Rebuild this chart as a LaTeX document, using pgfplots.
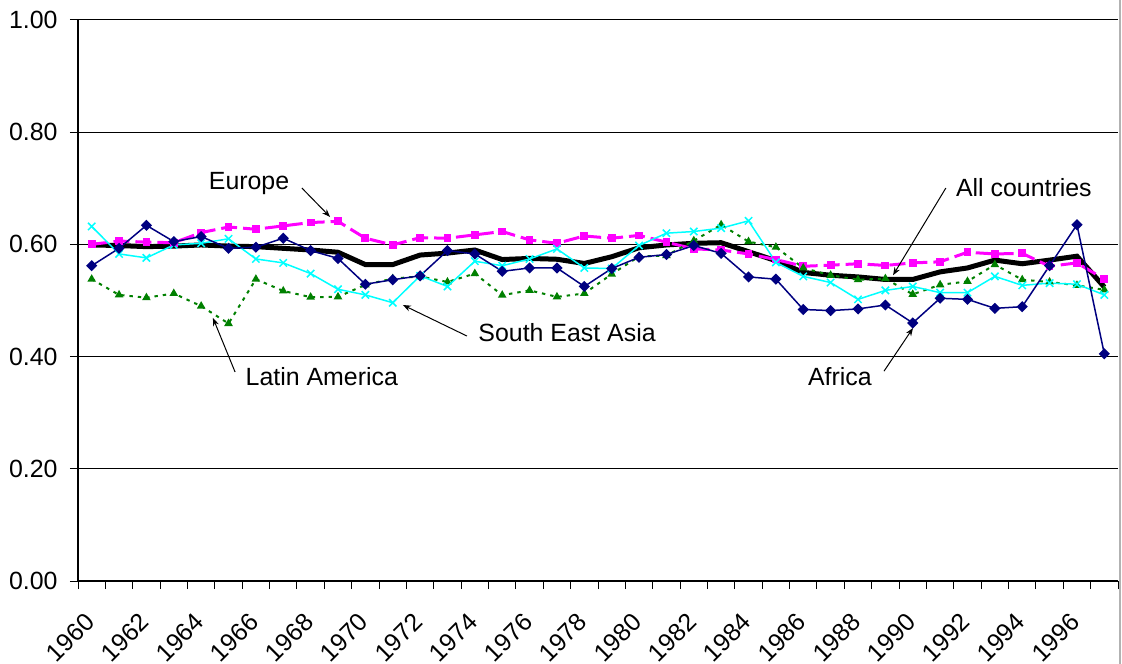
\documentclass[border=0pt]{standalone}
\usepackage{fontspec}
\setmainfont{Liberation Sans}
\usepackage{pgfplots}
\pgfplotsset{compat=1.18}
\usetikzlibrary{arrows.meta}
\definecolor{navyc}{RGB}{0,0,128}
\definecolor{cyanc}{RGB}{0,255,255}
\definecolor{magc}{RGB}{255,0,255}
\definecolor{greenc}{RGB}{0,128,0}
\begin{document}
\fontsize{12.5}{15}\selectfont
\begin{tikzpicture}
\path[use as bounding box] (-39bp,-41.5bp) rectangle (522bp,290.5bp);
\begin{axis}[at={(0,0)}, anchor=south west, scale only axis,
  width=520bp, height=280.5bp,
  xmin=-0.5, xmax=37.5, ymin=0, ymax=1,
  axis lines=left, axis line style={-, black, line width=0.6bp},
  clip=false,
  tick align=outside,
  xtick={0,2,...,36},
  xticklabels={1960,1962,1964,1966,1968,1970,1972,1974,1976,1978,1980,1982,1984,1986,1988,1990,1992,1994,1996},
  major x tick style={draw=none},
  minor xtick={-0.5,0.5,...,37.5},
  minor tick length=4bp,
  major tick length=4bp,
  tick style={black, line width=0.5bp},
  ytick={0,0.2,0.4,0.6,0.8,1},
  yticklabels={0.00,0.20,0.40,0.60,0.80,1.00},
  ymajorgrids, grid style={black, line width=0.5bp},
  every tick label/.append style={font=\fontsize{12.5}{15}\selectfont},
  xticklabel style={rotate=45, anchor=north east, inner sep=0pt, xshift=-10.7bp, yshift=-5bp},
  yticklabel style={inner sep=0pt, xshift=-6bp},
]
\addplot[black, line width=2.5bp, no markers] coordinates {
(0,0.599)(1,0.598)(2,0.596)(3,0.597)(4,0.599)(5,0.597)(6,0.596)(7,0.593)(8,0.590)(9,0.586)
(10,0.564)(11,0.564)(12,0.581)(13,0.5845)(14,0.590)(15,0.573)(16,0.575)(17,0.5735)(18,0.566)(19,0.578)
(20,0.594)(21,0.599)(22,0.602)(23,0.603)(24,0.587)(25,0.571)(26,0.550)(27,0.545)(28,0.542)(29,0.5375)
(30,0.5375)(31,0.551)(32,0.558)(33,0.572)(34,0.5655)(35,0.572)(36,0.579)(37,0.524)};
\addplot[magc, line width=1.5bp, dash pattern=on 8bp off 3bp, mark=square*, mark size=1.2bp, mark options={solid}] coordinates {
(0,0.600)(1,0.606)(2,0.604)(3,0.603)(4,0.621)(5,0.631)(6,0.627)(7,0.633)(8,0.639)(9,0.641)
(10,0.611)(11,0.599)(12,0.612)(13,0.611)(14,0.617)(15,0.623)(16,0.608)(17,0.602)(18,0.615)(19,0.611)
(20,0.616)(21,0.604)(22,0.592)(23,0.590)(24,0.583)(25,0.573)(26,0.561)(27,0.563)(28,0.5655)(29,0.5625)
(30,0.567)(31,0.569)(32,0.586)(33,0.583)(34,0.584)(35,0.561)(36,0.567)(37,0.538)};
\addplot[greenc, line width=1bp, dash pattern=on 1.7bp off 2.5bp, mark=triangle*, mark size=1.5bp, mark options={solid}] coordinates {
(0,0.538)(1,0.510)(2,0.505)(3,0.5125)(4,0.490)(5,0.459)(6,0.538)(7,0.517)(8,0.506)(9,0.5065)
(10,0.528)(11,0.539)(12,0.543)(13,0.533)(14,0.548)(15,0.5095)(16,0.518)(17,0.5065)(18,0.5125)(19,0.547)
(20,0.5785)(21,0.580)(22,0.6065)(23,0.635)(24,0.605)(25,0.595)(26,0.558)(27,0.545)(28,0.537)(29,0.539)
(30,0.511)(31,0.528)(32,0.534)(33,0.564)(34,0.537)(35,0.533)(36,0.527)(37,0.519)};
\addplot[cyanc, line width=0.75bp, mark=x, mark size=2.6bp] coordinates {
(0,0.632)(1,0.583)(2,0.576)(3,0.599)(4,0.602)(5,0.610)(6,0.574)(7,0.567)(8,0.548)(9,0.520)
(10,0.510)(11,0.496)(12,0.544)(13,0.525)(14,0.570)(15,0.562)(16,0.574)(17,0.592)(18,0.558)(19,0.557)
(20,0.598)(21,0.620)(22,0.623)(23,0.629)(24,0.642)(25,0.568)(26,0.543)(27,0.532)(28,0.502)(29,0.518)
(30,0.525)(31,0.514)(32,0.514)(33,0.543)(34,0.527)(35,0.531)(36,0.529)(37,0.510)};
\addplot[navyc, line width=0.75bp, mark=square*, mark size=1.6bp, mark options={rotate=45}] coordinates {
(0,0.562)(1,0.593)(2,0.634)(3,0.605)(4,0.614)(5,0.593)(6,0.595)(7,0.611)(8,0.589)(9,0.575)
(10,0.529)(11,0.537)(12,0.544)(13,0.589)(14,0.583)(15,0.552)(16,0.558)(17,0.558)(18,0.525)(19,0.557)
(20,0.577)(21,0.582)(22,0.598)(23,0.584)(24,0.542)(25,0.538)(26,0.484)(27,0.482)(28,0.485)(29,0.492)
(30,0.460)(31,0.504)(32,0.502)(33,0.486)(34,0.489)(35,0.562)(36,0.635)(37,0.405)};
% annotations
\tikzset{ann/.style={-{Stealth[length=4bp,width=3bp]}, black, line width=0.5bp}}
\node at (axis cs:5.75,0.709) {Europe};
\draw[ann] (axis cs:7.68,0.7005) -- (axis cs:8.71,0.649);
\node at (axis cs:8.41,0.365) {Latin America};
\draw[ann] (axis cs:5.24,0.3725) -- (axis cs:4.43,0.469);
\node at (axis cs:17.37,0.442) {South East Asia};
\draw[ann] (axis cs:13.71,0.4367) -- (axis cs:11.37,0.492);
\node at (axis cs:34.06,0.702) {All countries};
\draw[ann] (axis cs:31.21,0.7005) -- (axis cs:29.28,0.545);
\node at (axis cs:27.34,0.365) {Africa};
\draw[ann] (axis cs:28.95,0.374) -- (axis cs:30.01,0.451);
\end{axis}
\draw[gray!60, line width=1bp] (521bp,-41.5bp) -- (521bp,290.5bp);
\end{tikzpicture}
\end{document}
